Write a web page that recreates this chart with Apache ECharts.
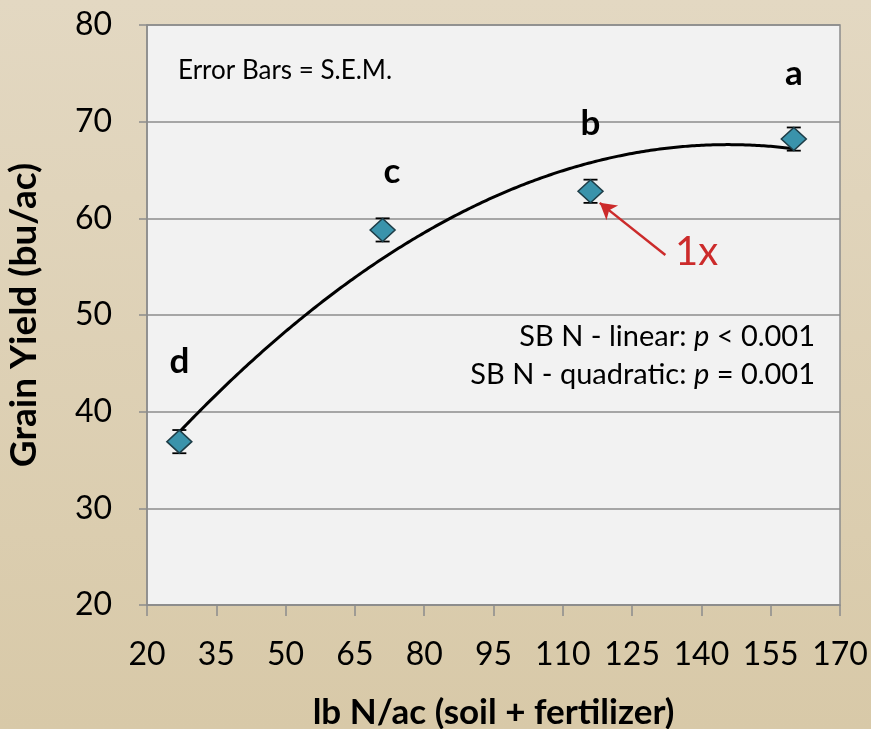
<!DOCTYPE html>
<html>
<head>
<meta charset="utf-8">
<script src="https://cdn.jsdelivr.net/npm/echarts@6/dist/echarts.min.js"></script>
<style>
html,body{margin:0;padding:0;}
#c{width:871px;height:729px;}
</style>
</head>
<body>
<div id="c"></div>
<script>
// Data
const nRate = [27, 71, 116, 160];
const yieldMean = [36.9, 58.8, 62.8, 68.2];
const yieldSem = [1.2, 1.2, 1.2, 1.2];
const letters = ['d', 'c', 'b', 'a'];
const letterX = [27, 73, 116, 160];
const letterY = [45.2, 64.8, 69.8, 75.0];
const xTicks = [20, 35, 50, 65, 80, 95, 110, 125, 140, 155, 170];
const yTicks = [20, 30, 40, 50, 60, 70, 80];
const arrowFrom = [132.2, 56.2];
const arrowTo = [118.0, 61.6];

// quadratic least-squares fit of yield on N rate
function quadFit(xs, ys) {
  let n = xs.length, S = [0,0,0,0,0], T = [0,0,0];
  for (let i = 0; i < n; i++) {
    let p = 1;
    for (let k = 0; k < 5; k++) { S[k] += p; if (k < 3) T[k] += p * ys[i]; p *= xs[i]; }
  }
  const A = [[S[0],S[1],S[2],T[0]],[S[1],S[2],S[3],T[1]],[S[2],S[3],S[4],T[2]]];
  for (let i = 0; i < 3; i++) {
    for (let j = i + 1; j < 3; j++) {
      const f = A[j][i] / A[i][i];
      for (let k = i; k < 4; k++) A[j][k] -= f * A[i][k];
    }
  }
  const c = [0,0,0];
  for (let i = 2; i >= 0; i--) {
    let s = A[i][3];
    for (let k = i + 1; k < 3; k++) s -= A[i][k] * c[k];
    c[i] = s / A[i][i];
  }
  return c;
}
const coef = quadFit(nRate, yieldMean);
const fitLine = [];
for (let x = nRate[0]; x <= nRate[nRate.length - 1]; x += 1) {
  fitLine.push([x, coef[0] + coef[1] * x + coef[2] * x * x]);
}

const FONT = 'Lato';
const chart = echarts.init(document.getElementById('c'));
const rich = {
  n: {fontFamily: FONT, fontSize: 29, color: '#000'},
  i: {fontFamily: FONT, fontSize: 29, fontStyle: 'italic', color: '#000'}
};
chart.setOption({
  animation: false,
  backgroundColor: {
    type: 'linear', x: 0, y: 0, x2: 0, y2: 1,
    colorStops: [{offset: 0, color: '#e3d8c2'}, {offset: 1, color: '#d8c9a8'}]
  },
  grid: {
    left: 147, right: 31, top: 25, bottom: 124,
    containLabel: false, outerBoundsMode: 'none',
    show: true, backgroundColor: '#f2f2f2', borderColor: '#8c8c8c', borderWidth: 1.5
  },
  xAxis: {
    type: 'value', min: 20, max: 170, interval: 15,
    name: 'lb N/ac (soil + fertilizer)', nameLocation: 'middle', nameGap: 90,
    nameTextStyle: {fontFamily: FONT, fontWeight: 'bold', fontSize: 35, color: '#000'},
    axisLine: {show: true, lineStyle: {color: '#8c8c8c', width: 1.5}},
    axisTick: {show: true, length: 11, lineStyle: {color: '#8c8c8c', width: 1.5}},
    axisLabel: {fontFamily: FONT, fontSize: 32, color: '#000', margin: 34,
      formatter: v => xTicks.includes(v) ? String(v) : ''},
    splitLine: {show: false}
  },
  yAxis: {
    type: 'value', min: 20, max: 80, interval: 10,
    name: 'Grain Yield (bu/ac)', nameLocation: 'middle', nameGap: 104, nameRotate: 90,
    nameTextStyle: {fontFamily: FONT, fontWeight: 'bold', fontSize: 37, color: '#000'},
    axisLine: {show: true, lineStyle: {color: '#8c8c8c', width: 1.5}},
    axisTick: {show: true, length: 8, lineStyle: {color: '#8c8c8c', width: 1.5}},
    axisLabel: {fontFamily: FONT, fontSize: 32, color: '#000', margin: 35,
      formatter: v => yTicks.includes(v) ? String(v) : ''},
    splitLine: {show: true, lineStyle: {color: '#8c8c8c', width: 1.5}}
  },
  series: [
    {
      type: 'line', data: fitLine, showSymbol: false, smooth: true,
      lineStyle: {color: '#000', width: 3}, z: 2
    },
    {
      type: 'custom', z: 3,
      data: nRate.map((x, i) => [x, yieldMean[i] - yieldSem[i], yieldMean[i] + yieldSem[i]]),
      renderItem: function (params, api) {
        const lo = api.coord([api.value(0), api.value(1)]);
        const hi = api.coord([api.value(0), api.value(2)]);
        const w = 7;
        const st = {stroke: '#000', lineWidth: 1.8};
        return {type: 'group', children: [
          {type: 'line', shape: {x1: lo[0], y1: lo[1], x2: hi[0], y2: hi[1]}, style: st},
          {type: 'line', shape: {x1: lo[0]-w, y1: lo[1], x2: lo[0]+w, y2: lo[1]}, style: st},
          {type: 'line', shape: {x1: hi[0]-w, y1: hi[1], x2: hi[0]+w, y2: hi[1]}, style: st}
        ]};
      }
    },
    {
      type: 'scatter', z: 20, zlevel: 1,
      data: nRate.map((x, i) => [x, yieldMean[i]]),
      symbol: 'diamond', symbolSize: [25, 23],
      itemStyle: {color: '#3a93ab', borderColor: '#1e3d47', borderWidth: 1.5, opacity: 1},
      markLine: {
        silent: true, symbol: ['none', 'arrow'], symbolSize: [14, 16],
        lineStyle: {color: '#cc2b2b', width: 2.5, type: 'solid'},
        label: {show: false},
        data: [[{coord: arrowFrom}, {coord: arrowTo}]]
      }
    },
    {
      type: 'scatter', z: 25, zlevel: 1, silent: true,
      symbol: 'circle', symbolSize: 1, itemStyle: {opacity: 0},
      data: letters.map((l, i) => ({value: [letterX[i], letterY[i]], name: l})),
      label: {show: true, position: 'inside', formatter: p => p.name,
        fontFamily: FONT, fontWeight: 'bold', fontSize: 35, color: '#000', opacity: 1}
    }
  ],
  graphic: [
    {type: 'text', left: 178, top: 58, style: {text: 'Error Bars = S.E.M.', fontFamily: FONT, fontSize: 26, fill: '#000'}},
    {type: 'text', right: 56, top: 322, style: {text: '{n|SB N - linear: }{i|p}{n| < 0.001}', rich: rich}},
    {type: 'text', right: 56, top: 360, style: {text: '{n|SB N - quadratic: }{i|p}{n| = 0.001}', rich: rich}},
    {type: 'text', left: 675, top: 232, style: {text: '1x', fontFamily: FONT, fontSize: 40, fill: '#cc2b2b'}}
  ]
});
</script>
</body>
</html>
